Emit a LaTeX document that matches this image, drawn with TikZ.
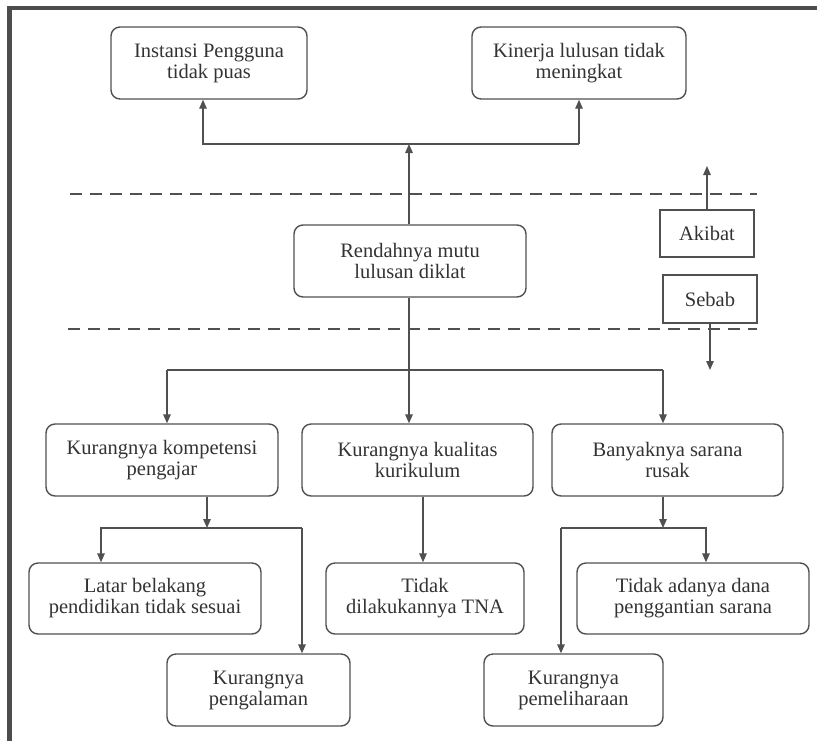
\documentclass[tikz,border=0pt]{standalone}
\usepackage{fontspec}
\setmainfont{Liberation Serif}
\usetikzlibrary{arrows.meta}
\definecolor{framegray}{HTML}{4D4D4D}
\definecolor{linegray}{HTML}{505050}
\definecolor{textgray}{HTML}{333333}
\tikzset{
  box/.style={draw=linegray, line width=1.4pt, rounded corners=9pt, align=center,
    text=textgray, inner sep=0pt, font=\fontsize{20.5}{21}\selectfont},
  tagbox/.style={draw=linegray, line width=1.4pt, align=center,
    text=textgray, inner sep=0pt, font=\fontsize{20.5}{21}\selectfont},
  conn/.style={draw=linegray, line width=1.4pt},
  arr/.style={conn, -{Triangle[length=9pt,width=7.5pt]}},
  divider/.style={draw=linegray, line width=2.5pt, dash pattern=on 12pt off 8pt},
}
\begin{document}
\begin{tikzpicture}[x=1pt,y=-1pt]
\useasboundingbox (0,0) rectangle (817,740);

% outer frame (left and top edges)
\draw[framegray, line width=4.5pt] (9.5,742) -- (9.5,8) -- (819,8);

% effect boxes
\node[box, minimum width=196pt, minimum height=72pt] (inst) at (209,63) {Instansi Pengguna\\tidak puas};
\node[box, minimum width=214pt, minimum height=72pt] (kin) at (579,63) {Kinerja lulusan tidak\\meningkat};

% core problem
\node[box, minimum width=232pt, minimum height=72pt] (rend) at (410,261) {Rendahnya mutu\\lulusan diklat};

% legend boxes
\node[tagbox, minimum width=94pt, minimum height=47pt] (akibat) at (707,233.5) {Akibat};
\node[tagbox, minimum width=94pt, minimum height=48pt] (sebab) at (710,299) {Sebab};

% first level causes
\node[box, minimum width=232pt, minimum height=72pt] (komp) at (162,460) {Kurangnya kompetensi\\pengajar};
\node[box, minimum width=231pt, minimum height=72pt] (kual) at (417.5,460) {Kurangnya kualitas\\kurikulum};
\node[box, minimum width=231pt, minimum height=72pt] (bany) at (667.5,460) {Banyaknya sarana\\rusak};

% second level causes
\node[box, minimum width=232pt, minimum height=71pt] (latar) at (145,598.5) {Latar belakang\\pendidikan tidak sesuai};
\node[box, minimum width=198pt, minimum height=71pt] (tna) at (425,598.5) {Tidak\\dilakukannya TNA};
\node[box, minimum width=232pt, minimum height=71pt] (dana) at (693,598.5) {Tidak adanya dana\\penggantian sarana};
\node[box, minimum width=183pt, minimum height=72pt] (peng) at (258.5,690) {Kurangnya\\pengalaman};
\node[box, minimum width=179pt, minimum height=72pt] (pem) at (573.5,690) {Kurangnya\\pemeliharaan};

% dashed dividers
\coordinate (d1l) at (70,194);  \coordinate (d1r) at (757,194);
\coordinate (d2l) at (68,329);  \coordinate (d2r) at (757,329);
\draw[divider] (d1l) -- (d1r);
\draw[divider] (d2l) -- (d2r);

% effects branch
\coordinate (topmid) at (409,144);
\coordinate (tl) at (203,144);
\coordinate (tr) at (579,144);
\draw[arr] (rend.north -| topmid) -- (topmid);
\draw[arr] (tr) -- (tl) -- (tl |- inst.south);
\draw[arr] (tr) -- (tr |- kin.south);

% legend arrows
\coordinate (akup) at (707,166);
\coordinate (sbdn) at (710,370);
\draw[arr] (akibat.north) -- (akup);
\draw[arr] (sebab.south) -- (sbdn);

% causes branch
\coordinate (midc) at (409,370);
\coordinate (midl) at (167,370);
\coordinate (midr) at (663,370);
\draw[conn] (rend.south -| midc) -- (midc);
\draw[conn] (midl) -- (midr);
\draw[arr] (midc) -- (kual.north -| midc);
\draw[arr] (midl) -- (komp.north -| midl);
\draw[arr] (midr) -- (bany.north -| midr);

% competence sub-causes
\coordinate (kd) at (207,528);
\coordinate (kl) at (101,528);
\coordinate (kr) at (302,528);
\draw[arr] (komp.south -| kd) -- (kd);
\draw[arr] (kr) -- (kl) -- (latar.north -| kl);
\draw[arr] (kr) -- (peng.north -| kr);

% curriculum sub-cause
\coordinate (qd) at (423,528);
\draw[arr] (kual.south -| qd) -- (tna.north -| qd);

% facilities sub-causes
\coordinate (bd) at (663,528);
\coordinate (bl) at (561,528);
\coordinate (br) at (706,528);
\draw[arr] (bany.south -| bd) -- (bd);
\draw[arr] (bl) -- (br) -- (dana.north -| br);
\draw[arr] (bl) -- (pem.north -| bl);
\end{tikzpicture}
\end{document}
